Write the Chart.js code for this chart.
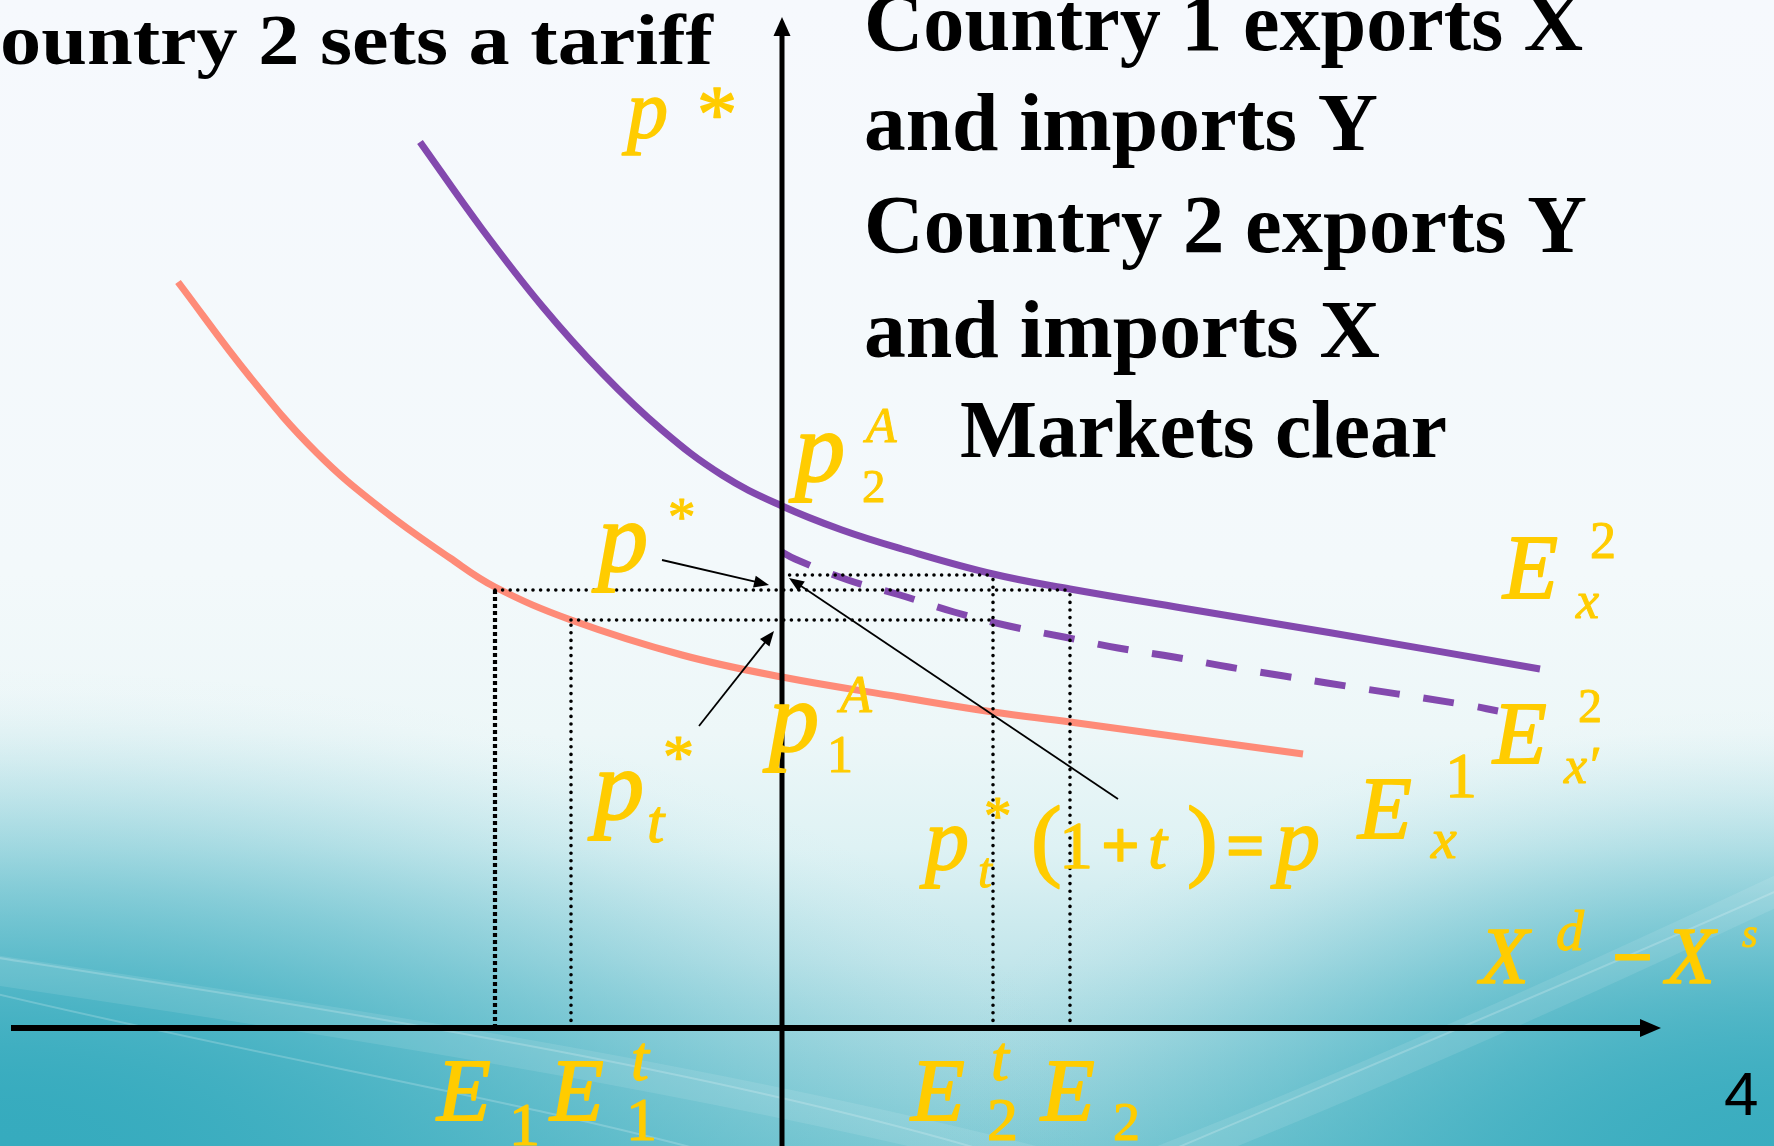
<!DOCTYPE html>
<html>
<head>
<meta charset="utf-8">
<title>Country 2 sets a tariff</title>
<script src="https://cdn.jsdelivr.net/npm/chart.js@4.4.1/dist/chart.umd.min.js"></script>
<style>
  html, body { margin: 0; padding: 0; overflow: hidden; background: #f6f9fd; }
  canvas { display: block; }
</style>
</head>
<body>
<canvas id="offer" width="1774" height="1146"></canvas>
<script>
// Excess demand for X (horizontal) against the relative price (vertical).

// Country 2's excess-demand curve E_x^2 (free trade)
const e2Excess = [-3.62, -3.0, -2.4, -1.8, -1.2, -0.6, 0, 0.6, 1.2, 2.11, 2.88, 4.0, 5.5, 7.58];
const e2Price  = [ 8.86, 7.99, 7.22, 6.55, 5.98, 5.53, 5.22, 4.98, 4.79, 4.54, 4.39, 4.20, 3.95, 3.59];

// Country 2's curve once the tariff is in place, E_x'^2
const e2TariffExcess = [0, 0.13, 0.66, 1.18, 1.72, 2.27, 2.82, 3.36, 3.92, 4.47, 5.02, 5.45, 6.85, 7.16];
const e2TariffPrice  = [4.76, 4.69, 4.48, 4.33, 4.16, 4.02, 3.91, 3.80, 3.71, 3.61, 3.52, 3.45, 3.23, 3.17];

// Country 1's excess-demand curve E_x^1
const e1Excess = [-6.04, -5.32, -4.65, -3.99, -3.32, -2.87, -2.11, -1.0, 0, 1.18, 2.11, 2.88, 5.21];
const e1Price  = [ 7.46,  6.51,  5.75,  5.18,  4.70,  4.41,  4.08, 3.73, 3.51, 3.31, 3.16, 3.06, 2.74];

// Prices marked by the dotted guides
const worldPrice = 4.38;          // p*
const tariffWorldPrice = 4.08;    // p*_t
const tariffDomesticPrice = 4.53; // p = p*_t (1 + t)

// Quantities traded
const qE1 = -2.87, qE1t = -2.11, qE2t = 2.11, qE2 = 2.88;

// Axis extents
const axisLeft = -7.71, axisRight = 8.79, axisTop = 10.11, axisBottom = -1.18;

const PURPLE = '#8349ae';
const SALMON = '#fe8b78';
const GOLD = '#ffcc00';
const FACE = '"Liberation Serif", "Times New Roman", serif';

const zip = (xs, ys) => xs.map((x, i) => ({ x, y: ys[i] }));
const seg = (x1, y1, x2, y2) => [{ x: x1, y: y1 }, { x: x2, y: y2 }];

const dotted = (data) => ({
  data, showLine: true, borderColor: '#000', borderWidth: 3.6,
  borderDash: [0, 7.6], borderCapStyle: 'round', pointRadius: 0
});

const curve = (data, color, dash) => ({
  data, showLine: true, borderColor: color, borderWidth: 7, tension: 0.4,
  borderDash: dash || [], borderCapStyle: 'butt', pointRadius: 0
});

const datasets = [
  // axes
  { data: seg(0, axisBottom, 0, axisTop - 0.15), showLine: true, borderColor: '#000', borderWidth: 5, pointRadius: 0 },
  { data: seg(axisLeft, 0, axisRight - 0.16, 0), showLine: true, borderColor: '#000', borderWidth: 6, pointRadius: 0 },
  // dotted guides
  dotted(seg(qE1, worldPrice, qE2, worldPrice)),
  dotted(seg(qE1t, tariffWorldPrice, qE2t, tariffWorldPrice)),
  dotted(seg(0, tariffDomesticPrice, qE2t, tariffDomesticPrice)),
  { data: seg(qE1, 0, qE1, worldPrice), showLine: true, borderColor: '#000', borderWidth: 4.2,
    borderDash: [4, 3], pointRadius: 0 },
  dotted(seg(qE1t, 0, qE1t, tariffWorldPrice)),
  dotted(seg(qE2t, 0, qE2t, tariffDomesticPrice)),
  dotted(seg(qE2, 0, qE2, worldPrice)),
  // offer curves
  curve(zip(e1Excess, e1Price), SALMON),
  curve(zip(e2TariffExcess, e2TariffPrice), PURPLE, [31, 24]),
  curve(zip(e2Excess, e2Price), PURPLE)
];

// Thin pointer arrows from a label towards a price on the vertical axis
const pointers = [
  [[-1.20, 4.68], [-0.13, 4.43]],
  [[-0.83, 3.02], [-0.08, 3.97]],
  [[ 3.36, 2.29], [ 0.07, 4.50]]
];

// Math labels: anchor in data units, runs = [text, dx, dy, size, style]
const mathLabels = [
  { at: [-1.55, 8.91], runs: [['p', 0, 0, 82, 'i'], ['*', 70, 4, 80, 'r']] },
  { at: [0.13, 5.47], runs: [['p', 0, 0, 100, 'i'], ['2', 67, 21, 47, 'r'], ['A', 71, -39, 50, 'i']] },
  { at: [-1.84, 4.57], runs: [['p', 0, 0, 100, 'i'], ['*', 70, -36, 55, 'r']] },
  { at: [-1.88, 2.09], runs: [['p', 0, 0, 100, 'i'], ['t', 53, 23, 62, 'i'], ['*', 69, -42, 62, 'r']] },
  { at: [-0.13, 2.77], runs: [['p', 0, 0, 100, 'i'], ['1', 58, 21, 52, 'r'], ['A', 71, -39, 52, 'i']] },
  { at: [1.43, 1.59], runs: [['p', 0, 0, 88, 'i'], ['t', 53, 18, 50, 'i'], ['*', 59, -35, 55, 'r'],
      ['(', 106, 0, 92, 'r'], ['1', 134, -1, 68, 'r'], ['+', 176, -1, 68, 'b'], ['t', 223, -1, 68, 'i'],
      [')', 262, 0, 92, 'r'], ['=', 301, -1, 68, 'b'], ['p', 351, 0, 88, 'i']] },
  { at: [7.21, 4.30], runs: [['E', 0, 0, 90, 'i'], ['2', 87, -40, 52, 'r'], ['x', 73, 20, 52, 'i']] },
  { at: [7.11, 2.65], runs: [['E', 0, 0, 88, 'i'], ['2', 85, -41, 48, 'r'], ['x\u2032', 71, 20, 52, 'i']] },
  { at: [5.76, 1.90], runs: [['E', 0, 0, 88, 'i'], ['1', 87, -41, 64, 'r'], ['x', 73, 20, 58, 'i']] },
  { at: [6.98, 0.45], runs: [['X', 0, 0, 80, 'i'], ['d', 76, -33, 56, 'i'], ['\u2212', 132, -2, 72, 'b'],
      ['X', 186, 0, 80, 'i'], ['s', 262, -36, 40, 'i']] },
  { at: [-3.45, -0.92], runs: [['E', 0, 0, 88, 'i'], ['1', 72, 25, 62, 'r'], ['E', 113, 0, 88, 'i'],
      ['1', 189, 20, 62, 'r'], ['t', 194, -40, 64, 'i']] },
  { at: [1.29, -0.92], runs: [['E', 0, 0, 88, 'i'], ['2', 76, 20, 62, 'r'], ['t', 80, -40, 64, 'i'],
      ['E', 130, 0, 88, 'i'], ['2', 202, 20, 54, 'r']] }
];

// Slide text: [text, x, baseline, size, width, align]
const slideText = [
  ['Country 2 sets a tariff', 713, 64, 72, 0, 'right'],
  ['Country 1 exports X', 864, 50, 82, 719, 'left'],
  ['and imports Y', 864, 150, 82, 514, 'left'],
  ['Country 2 exports Y', 864, 252, 82, 723, 'left'],
  ['and imports X', 864, 357, 82, 516, 'left'],
  ['Markets clear', 960, 457, 82, 487, 'left']
];

function fontOf(style, size) {
  if (style === 'i') return `italic ${size}px ${FACE}`;
  if (style === 'b') return `bold ${size}px ${FACE}`;
  return `${size}px ${FACE}`;
}

function paintBackground(ctx, w, h) {
  const g = ctx.createLinearGradient(0, 0, 0, h);
  g.addColorStop(0, '#f6f9fd');
  g.addColorStop(0.5, '#f3f9fb');
  g.addColorStop(0.64, '#edf7f8');
  g.addColorStop(0.74, '#def2f4');
  g.addColorStop(0.84, '#c3e6eb');
  g.addColorStop(0.93, '#a0d7df');
  g.addColorStop(1, '#84ccd6');
  ctx.fillStyle = g;
  ctx.fillRect(0, 0, w, h);

  // teal glow rising from the two lower corners; (1 - s^2)^2 falloff keeps the rim seamless
  const corner = (cx, cy, rx, ry, a) => {
    ctx.save();
    ctx.translate(cx, cy);
    ctx.scale(rx / ry, 1);
    const rg = ctx.createRadialGradient(0, 0, 0, 0, 0, ry);
    for (let i = 0; i <= 20; i++) {
      const s = i / 20;
      const k = Math.pow(1 - s * s, 2);
      rg.addColorStop(s, `rgba(54,171,190,${(a * k).toFixed(4)})`);
    }
    ctx.fillStyle = rg;
    ctx.fillRect(-w * ry / rx - 10, -h - 10, 2 * w * ry / rx + 20, 2 * h + 20);
    ctx.restore();
  };
  corner(0, h, 1100, 480, 1.0);
  corner(w, h, 850, 440, 0.95);

  // soft light swooshes across the lower part
  ctx.save();
  ctx.lineCap = 'round';
  ctx.strokeStyle = 'rgba(255,255,255,0.10)';
  ctx.lineWidth = 30;
  ctx.beginPath(); ctx.moveTo(-40, 965); ctx.bezierCurveTo(300, 1015, 700, 1075, 1050, 1165); ctx.stroke();
  ctx.beginPath(); ctx.moveTo(1800, 880); ctx.bezierCurveTo(1620, 965, 1380, 1075, 1150, 1165); ctx.stroke();
  ctx.strokeStyle = 'rgba(255,255,255,0.2)';
  ctx.lineWidth = 2;
  ctx.beginPath(); ctx.moveTo(-20, 955); ctx.bezierCurveTo(300, 1005, 700, 1065, 1000, 1155); ctx.stroke();
  ctx.beginPath(); ctx.moveTo(-20, 990); ctx.bezierCurveTo(250, 1055, 520, 1100, 720, 1155); ctx.stroke();
  ctx.beginPath(); ctx.moveTo(1790, 885); ctx.bezierCurveTo(1600, 970, 1360, 1070, 1160, 1155); ctx.stroke();
  ctx.restore();
}

function arrowHead(ctx, fromX, fromY, tipX, tipY, len, half) {
  const a = Math.atan2(tipY - fromY, tipX - fromX);
  const bx = tipX - len * Math.cos(a), by = tipY - len * Math.sin(a);
  ctx.beginPath();
  ctx.moveTo(tipX, tipY);
  ctx.lineTo(bx + half * Math.sin(a), by - half * Math.cos(a));
  ctx.lineTo(bx - half * Math.sin(a), by + half * Math.cos(a));
  ctx.closePath();
  ctx.fill();
}

const backdrop = {
  id: 'backdrop',
  beforeDraw(chart) {
    paintBackground(chart.ctx, chart.width, chart.height);
  }
};

const overlay = {
  id: 'overlay',
  afterDatasetsDraw(chart) {
    const { ctx } = chart;
    const xs = chart.scales.x, ys = chart.scales.y;
    const px = (v) => xs.getPixelForValue(v);
    const py = (v) => ys.getPixelForValue(v);

    ctx.save();
    ctx.fillStyle = '#000';
    ctx.strokeStyle = '#000';

    // axis arrowheads
    arrowHead(ctx, px(0), py(0), px(0), py(axisTop), 19, 8.5);
    arrowHead(ctx, px(0), py(0), px(axisRight), py(0), 21, 9);

    // pointer arrows
    ctx.lineWidth = 1.8;
    pointers.forEach(([[x1, y1], [x2, y2]]) => {
      const ax = px(x1), ay = py(y1), bx = px(x2), by = py(y2);
      const a = Math.atan2(by - ay, bx - ax);
      ctx.beginPath();
      ctx.moveTo(ax, ay);
      ctx.lineTo(bx - 10 * Math.cos(a), by - 10 * Math.sin(a));
      ctx.stroke();
      arrowHead(ctx, ax, ay, bx, by, 15, 6);
    });

    // math labels (a thin outline in the same colour gives the heavier math weight)
    ctx.fillStyle = GOLD;
    ctx.strokeStyle = GOLD;
    ctx.lineJoin = 'round';
    ctx.textBaseline = 'alphabetic';
    ctx.textAlign = 'left';
    mathLabels.forEach(({ at, runs }) => {
      const ox = px(at[0]), oy = py(at[1]);
      runs.forEach(([t, dx, dy, size, style]) => {
        ctx.font = fontOf(style, size);
        ctx.lineWidth = size / 50;
        ctx.fillText(t, ox + dx, oy + dy);
        ctx.strokeText(t, ox + dx, oy + dy);
      });
    });

    // slide text
    ctx.fillStyle = '#000';
    slideText.forEach(([t, x, y, size, width, align]) => {
      ctx.font = fontOf('b', size);
      let sx = 1;
      if (align === 'right') {
        sx = x / ctx.measureText(t.slice(1)).width;
      } else if (width) {
        sx = width / ctx.measureText(t).width;
      }
      ctx.save();
      ctx.translate(x, y);
      ctx.scale(sx, 1);
      ctx.textAlign = align;
      ctx.fillText(t, 0, 0);
      ctx.restore();
    });

    // slide number
    ctx.font = '62px "Liberation Sans Narrow", "Liberation Sans", sans-serif';
    ctx.textAlign = 'left';
    ctx.fillText('4', 1724, 1115);
    ctx.restore();
  }
};

new Chart(document.getElementById('offer'), {
  type: 'scatter',
  data: { datasets },
  options: {
    responsive: false,
    animation: false,
    devicePixelRatio: 1,
    layout: { padding: 0 },
    scales: {
      x: { type: 'linear', min: -7.82, max: 9.92, display: false },
      y: { type: 'linear', min: -1.18, max: 10.28, display: false }
    },
    plugins: { legend: { display: false }, tooltip: { enabled: false } },
    elements: { point: { radius: 0 } }
  },
  plugins: [backdrop, overlay]
});
</script>
</body>
</html>
